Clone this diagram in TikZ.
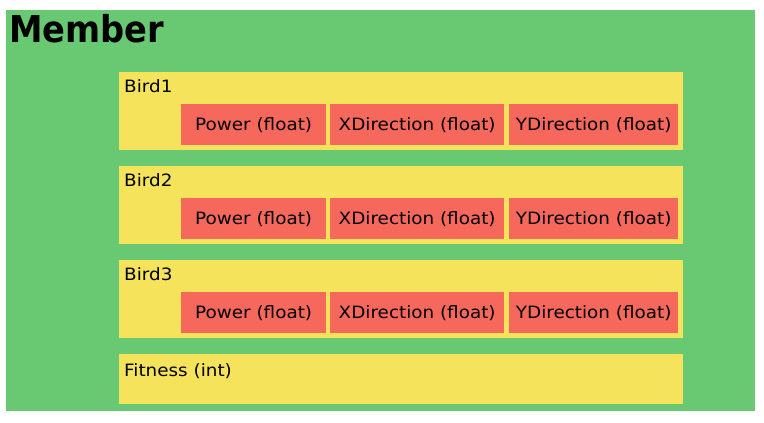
\documentclass[tikz,border=0pt]{standalone}
\usepackage{fontspec}
\setmainfont[FakeStretch=1.08]{DejaVu Sans}
\newfontfamily\titlefont[FakeStretch=0.91]{DejaVu Sans}
\usetikzlibrary{positioning}
\definecolor{G4}{RGB}{105,201,114}
\definecolor{Y4}{RGB}{244,227,91}
\definecolor{R4}{RGB}{246,104,92}

\begin{document}
\begin{tikzpicture}[x=1pt, y=-1pt,
    outer/.style={fill=G4, anchor=north west, inner sep=0pt, minimum width=749pt, minimum height=401pt},
    group/.style={fill=Y4, anchor=north west, inner sep=0pt, minimum width=564pt, minimum height=78pt},
    field/.style={fill=R4, anchor=north west, inner sep=0pt, minimum height=41pt, font=\fontsize{17}{17}\selectfont},
    lbl/.style={anchor=base west, inner sep=0pt, font=\fontsize{17}{17}\selectfont}]
      \path[use as bounding box] (0, 0) rectangle (764, 423);
      \node[outer] (member) at (6, 10) {};
      \node[anchor=base west, inner sep=0pt, font=\titlefont\bfseries\fontsize{37}{37}\selectfont] (title) at (9, 42) {Member};
      % birds
      \node[group] (bird1) at (119, 72) {};
      \node[lbl] (bird1lbl) at (124, 92.5) {Bird1};
      \node[field, minimum width=145pt] (bird1pow) at (181, 104) {Power (float)};
      \node[field, minimum width=174pt] (bird1xd) at (330, 104) {XDirection (float)};
      \node[field, minimum width=169pt] (bird1yd) at (509, 104) {YDirection (float)};
      \node[group] (bird2) at (119, 166) {};
      \node[lbl] (bird2lbl) at (124, 186.5) {Bird2};
      \node[field, minimum width=145pt] (bird2pow) at (181, 198) {Power (float)};
      \node[field, minimum width=174pt] (bird2xd) at (330, 198) {XDirection (float)};
      \node[field, minimum width=169pt] (bird2yd) at (509, 198) {YDirection (float)};
      \node[group] (bird3) at (119, 260) {};
      \node[lbl] (bird3lbl) at (124, 280.5) {Bird3};
      \node[field, minimum width=145pt] (bird3pow) at (181, 292) {Power (float)};
      \node[field, minimum width=174pt] (bird3xd) at (330, 292) {XDirection (float)};
      \node[field, minimum width=169pt] (bird3yd) at (509, 292) {YDirection (float)};
      % fitness
      \node[group, minimum height=50pt] (fit) at (119, 354) {};
      \node[lbl] (fitlbl) at (124, 376.5) {Fitness (int)};
    \end{tikzpicture}
\end{document}
